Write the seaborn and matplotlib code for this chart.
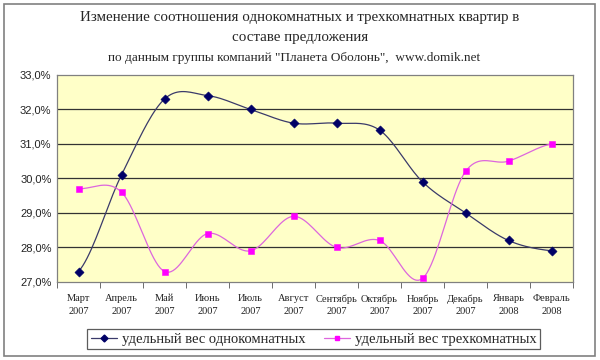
import numpy as np
import pandas as pd
import matplotlib
matplotlib.use('Agg')
import matplotlib.pyplot as plt
import seaborn as sns
from matplotlib.ticker import FuncFormatter, FixedLocator

months = ['Март\n2007', 'Апрель\n2007', 'Май\n2007', 'Июнь\n2007', 'Июль\n2007',
          'Август\n2007', 'Сентябрь\n2007', 'Октябрь\n2007', 'Ноябрь\n2007',
          'Декабрь\n2007', 'Январь\n2008', 'Февраль\n2008']
one_room = [27.3, 30.1, 32.3, 32.4, 32.0, 31.6, 31.6, 31.4, 29.9, 29.0, 28.2, 27.9]
three_room = [29.7, 29.6, 27.3, 28.4, 27.9, 28.9, 28.0, 28.2, 27.1, 30.2, 30.5, 31.0]
name_one = 'удельный вес однокомнатных'
name_three = 'удельный вес трехкомнатных'

sns.set_style('white')
plt.rcParams['font.family'] = ['Liberation Serif', 'DejaVu Serif']


def smooth(y, n=20):
    # Catmull-Rom style smoothing, like Excel's smoothed line
    y = np.asarray(y, dtype=float)
    x = np.arange(len(y), dtype=float)
    px = np.concatenate([[2 * x[0] - x[1]], x, [2 * x[-1] - x[-2]]])
    py = np.concatenate([[y[0]], y, [y[-1]]])
    xs, ys = [], []
    for i in range(1, len(px) - 2):
        t = np.linspace(0, 1, n, endpoint=False)
        b0 = (1 - t) ** 3
        b1 = 3 * t * (1 - t) ** 2
        b2 = 3 * t ** 2 * (1 - t)
        b3 = t ** 3
        c1x = px[i] + (px[i + 1] - px[i - 1]) / 6
        c2x = px[i + 1] - (px[i + 2] - px[i]) / 6
        c1y = py[i] + (py[i + 1] - py[i - 1]) / 6
        c2y = py[i + 1] - (py[i + 2] - py[i]) / 6
        xs.append(b0 * px[i] + b1 * c1x + b2 * c2x + b3 * px[i + 1])
        ys.append(b0 * py[i] + b1 * c1y + b2 * c2y + b3 * py[i + 1])
    xs.append([x[-1]])
    ys.append([y[-1]])
    return np.concatenate(xs), np.concatenate(ys)


df = pd.DataFrame({'pos': np.arange(len(months)), name_one: one_room, name_three: three_room})

fig = plt.figure(figsize=(6, 3.6), dpi=100)
fig.patch.set_facecolor('white')
ax = fig.add_axes([0.095, 0.217, 0.86, 0.575])
ax.set_facecolor('#FFFFC8')

for v in range(28, 33):
    ax.axhline(v, color='#333333', lw=0.9, zorder=1)

sx, sy = smooth(one_room)
ax.plot(sx, sy, color='#3a3a6a', lw=0.9, zorder=2)
sx, sy = smooth(three_room)
ax.plot(sx, sy, color='#dd66dd', lw=0.9, zorder=2)

sns.scatterplot(data=df, x='pos', y=name_one, marker='D', s=22, color='#000066',
                edgecolor='#000066', ax=ax, zorder=3)
sns.scatterplot(data=df, x='pos', y=name_three, marker='s', s=22, color='#FF00FF',
                edgecolor='#FF00FF', ax=ax, zorder=3)

ax.set_xlim(-0.5, len(months) - 0.5)
ax.set_ylim(27, 33)
ax.set_xticks(np.arange(len(months)))
ax.set_xticklabels(months, fontsize=7.5, linespacing=1.5, color='#222222')
ax.xaxis.set_minor_locator(FixedLocator(np.arange(-0.5, len(months), 1)))
ax.tick_params(axis='x', which='major', length=0, pad=9)
ax.tick_params(axis='x', which='minor', length=4, direction='out', color='#555555', bottom=True)
ax.set_yticks(range(27, 34))
ax.yaxis.set_major_formatter(FuncFormatter(lambda v, p: f'{v:.1f}%'.replace('.', ',')))
for lab in ax.get_yticklabels():
    lab.set_family(['Liberation Sans', 'DejaVu Sans'])
    lab.set_fontsize(8)
    lab.set_color('#222222')
ax.tick_params(axis='y', length=0, pad=4)
ax.set_xlabel('')
ax.set_ylabel('')
for s in ax.spines.values():
    s.set_color('#808080')
    s.set_linewidth(0.9)

fig.text(0.5, 0.952, 'Изменение соотношения однокомнатных и трехкомнатных квартир в',
         ha='center', va='center', fontsize=10.8)
fig.text(0.5, 0.895, 'составе предложения', ha='center', va='center', fontsize=10.8)
fig.text(0.49, 0.84, 'по данным группы компаний "Планета Оболонь",  www.domik.net',
         ha='center', va='center', fontsize=9.5)

h1 = plt.Line2D([], [], color='#3a3a6a', lw=0.9, marker='D', ms=3.5,
                markerfacecolor='#000066', markeredgecolor='#000066')
h2 = plt.Line2D([], [], color='#dd66dd', lw=0.9, marker='s', ms=3.5,
                markerfacecolor='#FF00FF', markeredgecolor='#FF00FF')
leg = fig.legend([h1, h2], [name_one, name_three], loc='center', bbox_to_anchor=(0.523, 0.058),
                 ncol=2, fontsize=10.5, frameon=True, fancybox=False, handlelength=1.8,
                 columnspacing=1.3, borderpad=0.25, borderaxespad=0, handletextpad=0.3)
leg.get_frame().set_edgecolor('#333333')
leg.get_frame().set_linewidth(0.9)

border = plt.Rectangle((0.006, 0.012), 0.985, 0.978, transform=fig.transFigure,
                       fill=False, edgecolor='#808080', lw=1.2)
fig.patches.append(border)

fig.savefig('out.png', dpi=100)
